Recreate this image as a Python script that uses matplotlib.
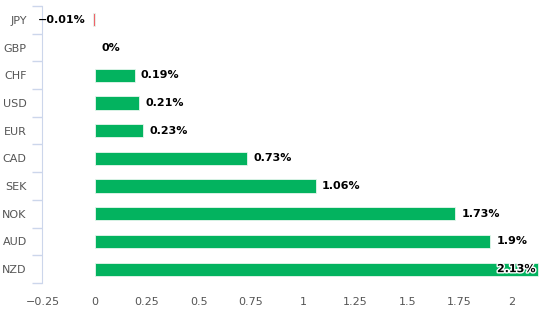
import matplotlib
matplotlib.use("Agg")
import matplotlib.pyplot as plt
import matplotlib.patheffects as pe

currencies = ["JPY", "GBP", "CHF", "USD", "EUR", "CAD", "SEK", "NOK", "AUD", "NZD"]
values = [-0.01, 0.0, 0.19, 0.21, 0.23, 0.73, 1.06, 1.73, 1.9, 2.13]
labels = ["\u22120.01%", "0%", "0.19%", "0.21%", "0.23%", "0.73%", "1.06%", "1.73%", "1.9%", "2.13%"]
xticks = [-0.25, 0, 0.25, 0.5, 0.75, 1, 1.25, 1.5, 1.75, 2]
xticklabels = ["\u22120.25", "0", "0.25", "0.5", "0.75", "1", "1.25", "1.5", "1.75", "2"]

green = "#03b35f"
red = "#f0626a"

fig = plt.figure(figsize=(5.44, 3.21), dpi=100)
ax = fig.add_axes([42 / 544, 1 - 283 / 321, 500 / 544, 277 / 321])

ys = list(range(len(currencies)))
colors = [red if v < 0 else green for v in values]
edges = ["none" if v == 0 else "#e6f7ee" for v in values]
ax.barh(ys, values, height=0.48, color=colors, edgecolor=edges, linewidth=0.6)

for y, v, lab in zip(ys, values, labels):
    if v < 0:
        ax.annotate(lab, (v, y), xytext=(-5, 0), textcoords="offset points",
                    ha="right", va="center", fontsize=8, fontweight="bold", color="#000000")
    elif v >= 2.0:
        ax.annotate(lab, (v, y), xytext=(-2, 0), textcoords="offset points",
                    ha="right", va="center", fontsize=8, fontweight="bold", color="#000000",
                    path_effects=[pe.withStroke(linewidth=2, foreground="white")])
    else:
        ax.annotate(lab, (v, y), xytext=(4.5, 0), textcoords="offset points",
                    ha="left", va="center", fontsize=8, fontweight="bold", color="#000000")

ax.set_xlim(-0.255, 2.148)
ax.set_ylim(len(currencies) - 0.5, -0.5)

ax.set_xticks(xticks)
ax.set_xticklabels(xticklabels)
ax.tick_params(axis="x", length=0, labelsize=8, labelcolor="#555555", pad=10)

ax.set_yticks(ys)
ax.set_yticklabels(currencies)
ax.tick_params(axis="y", length=0, labelsize=8, labelcolor="#555555", pad=11)

# minor ticks between categories
ax.set_yticks([y + 0.5 for y in ys[:-1]] + [-0.5, len(ys) - 0.5], minor=True)
ax.tick_params(axis="y", which="minor", length=7, color="#ccd6eb", width=1)

for s in ["top", "right", "bottom"]:
    ax.spines[s].set_visible(False)
ax.spines["left"].set_color("#ccd6eb")

plt.savefig("out.png", dpi=100)
